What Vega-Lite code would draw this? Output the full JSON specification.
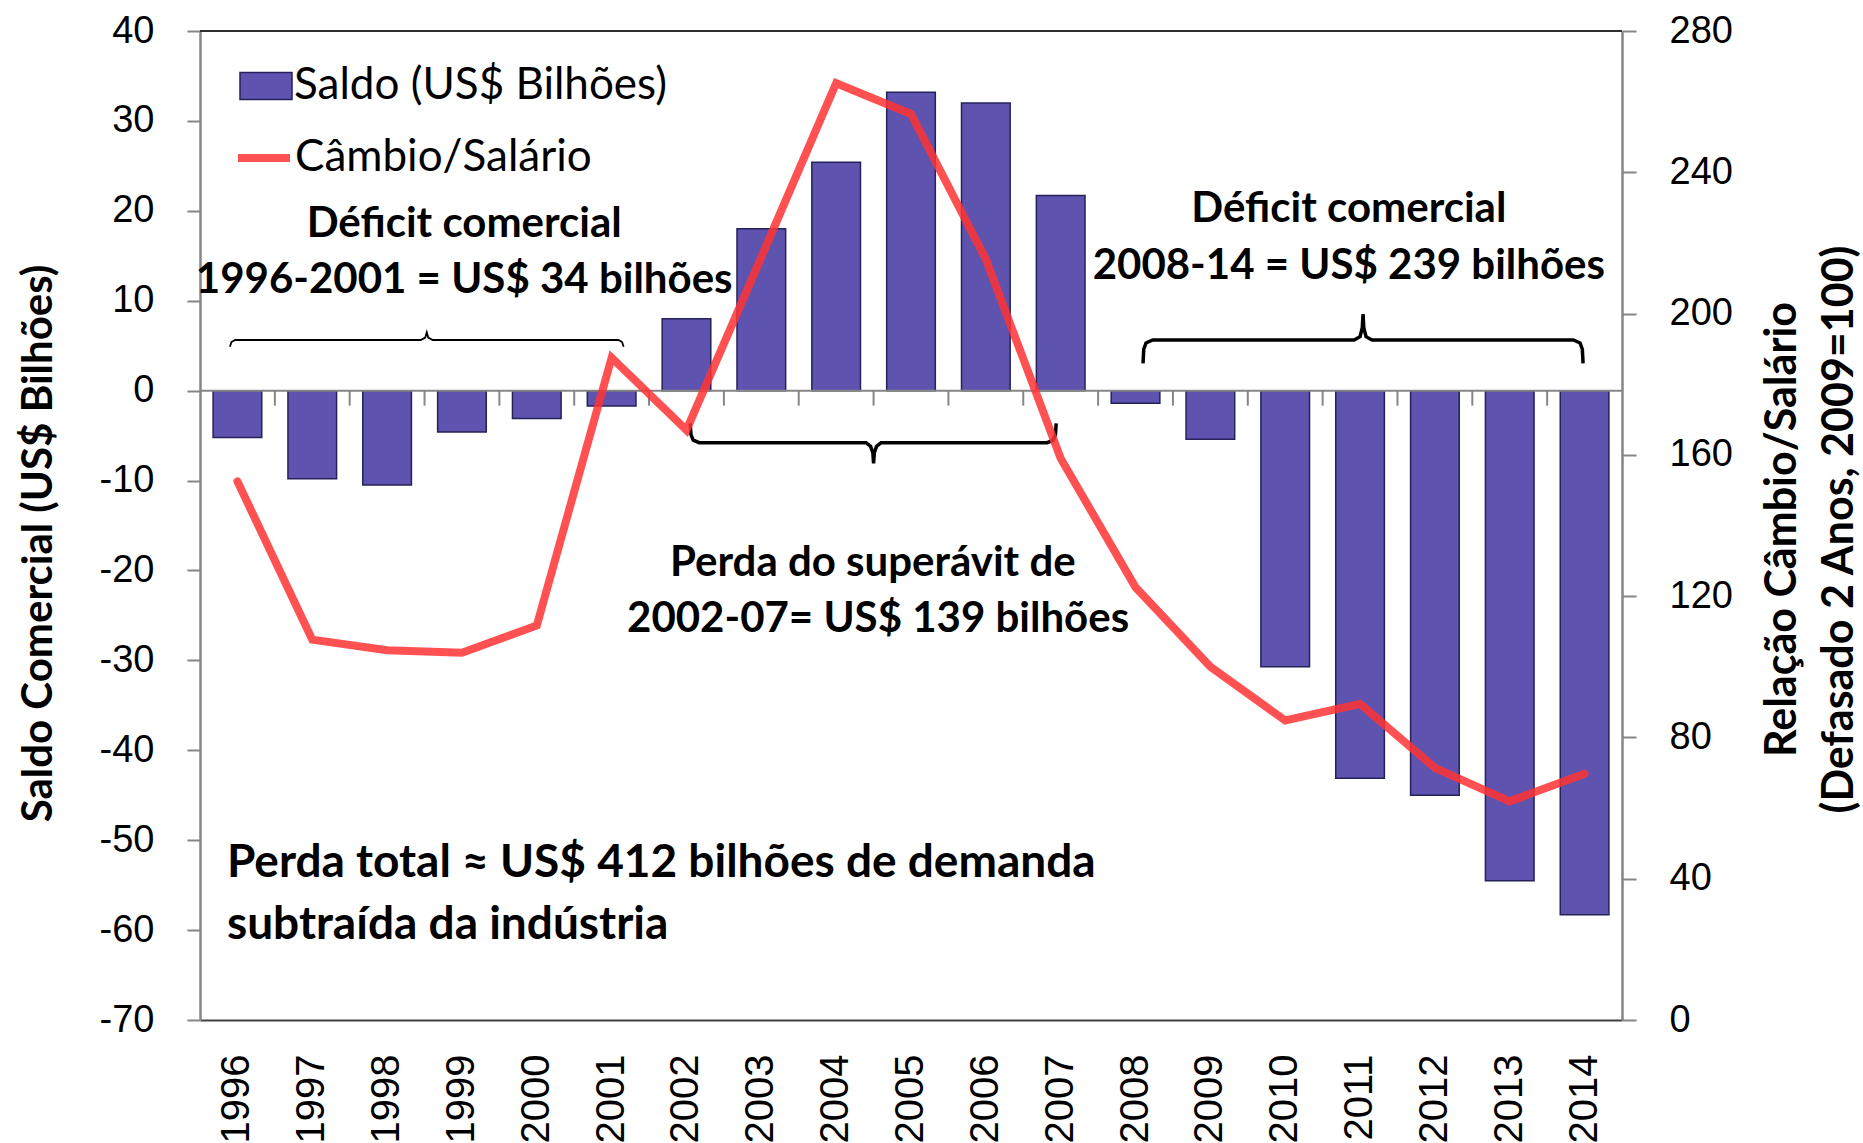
{
  "$schema": "https://vega.github.io/schema/vega-lite/v6.json",
  "width": 1422,
  "height": 989,
  "autosize": {"type": "none"},
  "padding": {"left": 200, "top": 31, "right": 241, "bottom": 123},
  "background": "white",
  "config": {"view": {"stroke": null}, "font": "Lato", "axis": {"grid": false}},
  "datasets": {
    "main": [
      {"year": 1996, "saldo": -5.2, "cambio": 152.5},
      {"year": 1997, "saldo": -9.8, "cambio": 107.7},
      {"year": 1998, "saldo": -10.5, "cambio": 104.7},
      {"year": 1999, "saldo": -4.6, "cambio": 104.0},
      {"year": 2000, "saldo": -3.1, "cambio": 111.7},
      {"year": 2001, "saldo": -1.7, "cambio": 187.5},
      {"year": 2002, "saldo": 8.0, "cambio": 167.0},
      {"year": 2003, "saldo": 18.0, "cambio": 216.0},
      {"year": 2004, "saldo": 25.4, "cambio": 265.2},
      {"year": 2005, "saldo": 33.2, "cambio": 256.5},
      {"year": 2006, "saldo": 32.0, "cambio": 215.4},
      {"year": 2007, "saldo": 21.7, "cambio": 159.0},
      {"year": 2008, "saldo": -1.4, "cambio": 122.5},
      {"year": 2009, "saldo": -5.4, "cambio": 100.0},
      {"year": 2010, "saldo": -30.7, "cambio": 84.8},
      {"year": 2011, "saldo": -43.1, "cambio": 89.5},
      {"year": 2012, "saldo": -45.0, "cambio": 71.4},
      {"year": 2013, "saldo": -54.5, "cambio": 61.9},
      {"year": 2014, "saldo": -58.3, "cambio": 69.7}
    ],
    "ticks": [
      {"b": 1996.5}, {"b": 1997.5}, {"b": 1998.5}, {"b": 1999.5}, {"b": 2000.5}, {"b": 2001.5},
      {"b": 2002.5}, {"b": 2003.5}, {"b": 2004.5}, {"b": 2005.5}, {"b": 2006.5}, {"b": 2007.5},
      {"b": 2008.5}, {"b": 2009.5}, {"b": 2010.5}, {"b": 2011.5}, {"b": 2012.5}, {"b": 2013.5}
    ],
    "thin": [
      {"g": "b1", "x": 1995.90, "y": 4.89},
      {"g": "b1", "x": 1995.92, "y": 5.4},
      {"g": "b1", "x": 1995.97, "y": 5.63},
      {"g": "b1", "x": 1998.45, "y": 5.63},
      {"g": "b1", "x": 1998.51, "y": 5.9},
      {"g": "b1", "x": 1998.53, "y": 6.49},
      {"g": "b1", "x": 1998.55, "y": 5.9},
      {"g": "b1", "x": 1998.61, "y": 5.63},
      {"g": "b1", "x": 2001.09, "y": 5.63},
      {"g": "b1", "x": 2001.14, "y": 5.4},
      {"g": "b1", "x": 2001.16, "y": 4.89}
    ],
    "thick": [
      {"g": "b2", "x": 2002.05, "y": -3.63},
      {"g": "b2", "x": 2002.06, "y": -4.9},
      {"g": "b2", "x": 2002.09, "y": -5.5},
      {"g": "b2", "x": 2002.17, "y": -5.79},
      {"g": "b2", "x": 2004.40, "y": -5.79},
      {"g": "b2", "x": 2004.46, "y": -6.2},
      {"g": "b2", "x": 2004.49, "y": -6.9},
      {"g": "b2", "x": 2004.50, "y": -8.08},
      {"g": "b2", "x": 2004.51, "y": -6.9},
      {"g": "b2", "x": 2004.54, "y": -6.2},
      {"g": "b2", "x": 2004.60, "y": -5.79},
      {"g": "b2", "x": 2006.82, "y": -5.79},
      {"g": "b2", "x": 2006.90, "y": -5.5},
      {"g": "b2", "x": 2006.93, "y": -4.9},
      {"g": "b2", "x": 2006.94, "y": -3.63},
      {"g": "b3", "x": 2008.10, "y": 3.04},
      {"g": "b3", "x": 2008.11, "y": 4.6},
      {"g": "b3", "x": 2008.14, "y": 5.3},
      {"g": "b3", "x": 2008.23, "y": 5.63},
      {"g": "b3", "x": 2010.92, "y": 5.63},
      {"g": "b3", "x": 2011.00, "y": 6.0},
      {"g": "b3", "x": 2011.03, "y": 7.0},
      {"g": "b3", "x": 2011.04, "y": 8.52},
      {"g": "b3", "x": 2011.05, "y": 7.0},
      {"g": "b3", "x": 2011.08, "y": 6.0},
      {"g": "b3", "x": 2011.16, "y": 5.63},
      {"g": "b3", "x": 2013.85, "y": 5.63},
      {"g": "b3", "x": 2013.94, "y": 5.3},
      {"g": "b3", "x": 2013.97, "y": 4.6},
      {"g": "b3", "x": 2013.98, "y": 3.04}
    ],
    "notes": [
      {"x": 1999.03, "y": 18.48, "t": "Déficit comercial"},
      {"x": 1999.03, "y": 12.26, "t": "1996-2001 = US$ 34 bilhões"},
      {"x": 2010.85, "y": 20.19, "t": "Déficit comercial"},
      {"x": 2010.85, "y": 13.85, "t": "2008-14 = US$ 239 bilhões"},
      {"x": 2004.49, "y": -19.18, "t": "Perda do superávit de"},
      {"x": 2004.56, "y": -25.4, "t": "2002-07= US$ 139 bilhões"}
    ],
    "notesLeft": [
      {"x": 1995.86, "y": -52.5, "t": "Perda total ≈ US$ 412 bilhões de demanda"},
      {"x": 1995.86, "y": -59.4, "t": "subtraída da indústria"}
    ]
  },
  "layer": [
    {
      "data": {"name": "main"},
      "mark": {"type": "bar", "stroke": "#25215a", "strokeWidth": 1.5},
      "encoding": {
        "x": {
          "field": "year", "type": "ordinal",
          "scale": {"paddingInner": 0.35, "paddingOuter": 0.175},
          "axis": {"orient": "bottom", "title": null, "labelAngle": 270, "labelFont": "Liberation Sans", "labelFontSize": 40, "labelColor": "#000000", "labelPadding": 34, "ticks": false, "tickSize": 0, "domain": true, "domainColor": "#404040", "domainWidth": 2, "labelOverlap": false}
        },
        "y": {
          "field": "saldo", "type": "quantitative",
          "scale": {"domain": [-70, 40], "nice": false, "zero": false},
          "axis": {"orient": "left", "values": [-70, -60, -50, -40, -30, -20, -10, 0, 10, 20, 30, 40], "labelExpr": "replace(datum.label, '\u2212', '-')", "title": "Saldo Comercial (US$ Bilhões)", "titleFont": "Lato", "titleFontSize": 42, "titleFontWeight": "bold", "titleColor": "#000000", "titleAngle": 270, "titleAlign": "center", "titleBaseline": "middle", "titleX": -162, "titleY": 512, "labelFont": "Liberation Sans", "labelFontSize": 38, "labelColor": "#000000", "labelPadding": 33, "labelFlush": false, "labelOverlap": false, "tickSize": 13, "tickColor": "#868686", "tickWidth": 2, "domainColor": "#868686", "domainWidth": 2.5, "grid": false}
        },
        "fill": {
          "datum": "Saldo (US$ Bilhões)", "type": "nominal",
          "scale": {"range": ["#5E54B0"]},
          "legend": {"orient": "none", "legendX": 39, "legendY": 28, "title": null, "padding": 0, "symbolType": "M-1,-0.52H1V0.52H-1Z", "symbolSize": 2704, "symbolStrokeColor": "#25215a", "symbolStrokeWidth": 1.5, "labelFont": "Lato", "labelFontSize": 44, "labelColor": "#000000", "labelOffset": 1, "labelLimit": 800}
        }
      }
    },
    {
      "data": {"values": [{}]},
      "mark": {"type": "rule", "color": "#868686", "strokeWidth": 2},
      "encoding": {
        "y": {"datum": 0, "type": "quantitative", "scale": {"domain": [-70, 40], "nice": false, "zero": false}, "axis": null}
      }
    },
    {
      "data": {"name": "ticks"},
      "mark": {"type": "rule", "color": "#868686", "strokeWidth": 2},
      "encoding": {
        "x": {"field": "b", "type": "quantitative", "scale": {"domain": [1995.5, 2014.5], "nice": false, "zero": false}, "axis": null},
        "y": {"datum": 0, "type": "quantitative", "scale": {"domain": [-70, 40], "nice": false, "zero": false}, "axis": null},
        "y2": {"datum": -1.67}
      }
    },
    {
      "data": {"name": "thin"},
      "mark": {"type": "line", "color": "#000000", "strokeWidth": 1.8},
      "encoding": {
        "x": {"field": "x", "type": "quantitative", "scale": {"domain": [1995.5, 2014.5], "nice": false, "zero": false}, "axis": null},
        "y": {"field": "y", "type": "quantitative", "scale": {"domain": [-70, 40], "nice": false, "zero": false}, "axis": null},
        "detail": {"field": "g"}
      }
    },
    {
      "data": {"name": "thick"},
      "mark": {"type": "line", "color": "#000000", "strokeWidth": 3.5},
      "encoding": {
        "x": {"field": "x", "type": "quantitative", "scale": {"domain": [1995.5, 2014.5], "nice": false, "zero": false}, "axis": null},
        "y": {"field": "y", "type": "quantitative", "scale": {"domain": [-70, 40], "nice": false, "zero": false}, "axis": null},
        "detail": {"field": "g"}
      }
    },
    {
      "data": {"name": "notes"},
      "mark": {"type": "text", "font": "Lato", "fontWeight": "bold", "fontSize": 42, "align": "center", "baseline": "middle", "color": "#000000"},
      "encoding": {
        "x": {"field": "x", "type": "quantitative", "scale": {"domain": [1995.5, 2014.5], "nice": false, "zero": false}, "axis": null},
        "y": {"field": "y", "type": "quantitative", "scale": {"domain": [-70, 40], "nice": false, "zero": false}, "axis": null},
        "text": {"field": "t"}
      }
    },
    {
      "data": {"name": "notesLeft"},
      "mark": {"type": "text", "font": "Lato", "fontWeight": "bold", "fontSize": 46, "align": "left", "baseline": "middle", "color": "#000000"},
      "encoding": {
        "x": {"field": "x", "type": "quantitative", "scale": {"domain": [1995.5, 2014.5], "nice": false, "zero": false}, "axis": null},
        "y": {"field": "y", "type": "quantitative", "scale": {"domain": [-70, 40], "nice": false, "zero": false}, "axis": null},
        "text": {"field": "t"}
      }
    },
    {
      "data": {"name": "main"},
      "mark": {"type": "line", "strokeWidth": 8, "opacity": 0.85, "strokeCap": "round"},
      "encoding": {
        "x": {"field": "year", "type": "quantitative", "scale": {"domain": [1995.5, 2014.5], "nice": false, "zero": false}, "axis": null},
        "y": {
          "field": "cambio", "type": "quantitative",
          "scale": {"domain": [0, 280], "nice": false, "zero": false},
          "axis": {"orient": "right", "values": [0, 40, 80, 120, 160, 200, 240, 280], "title": ["Relação Câmbio/Salário", "(Defasado 2 Anos, 2009=100)"], "titleFont": "Lato", "titleFontSize": 43, "titleFontWeight": "bold", "titleColor": "#000000", "titleAngle": 270, "titleAlign": "center", "titleBaseline": "middle", "titleLineHeight": 57, "titleX": 160, "titleY": 498, "labelFont": "Liberation Sans", "labelFontSize": 38, "labelColor": "#000000", "labelPadding": 33, "labelFlush": false, "labelOverlap": false, "tickSize": 14, "tickColor": "#868686", "tickWidth": 2, "domainColor": "#868686", "domainWidth": 2.5, "grid": false}
        },
        "stroke": {
          "datum": "Câmbio/Salário", "type": "nominal",
          "scale": {"range": ["#FF3333"]},
          "legend": {"orient": "none", "legendX": 34, "legendY": 97, "title": null, "padding": 0, "symbolType": "stroke", "symbolSize": 2704, "symbolStrokeWidth": 8, "labelFont": "Lato", "labelFontSize": 44, "labelColor": "#000000", "labelOffset": 1, "labelLimit": 800}
        }
      }
    },
    {
      "data": {"values": [{}]},
      "mark": {"type": "rule", "color": "#303030", "strokeWidth": 2},
      "encoding": {
        "y": {"datum": 40, "type": "quantitative", "scale": {"domain": [-70, 40], "nice": false, "zero": false}, "axis": null}
      }
    }
  ],
  "resolve": {
    "scale": {"x": "independent", "y": "independent"},
    "axis": {"x": "independent", "y": "independent"}
  }
}
